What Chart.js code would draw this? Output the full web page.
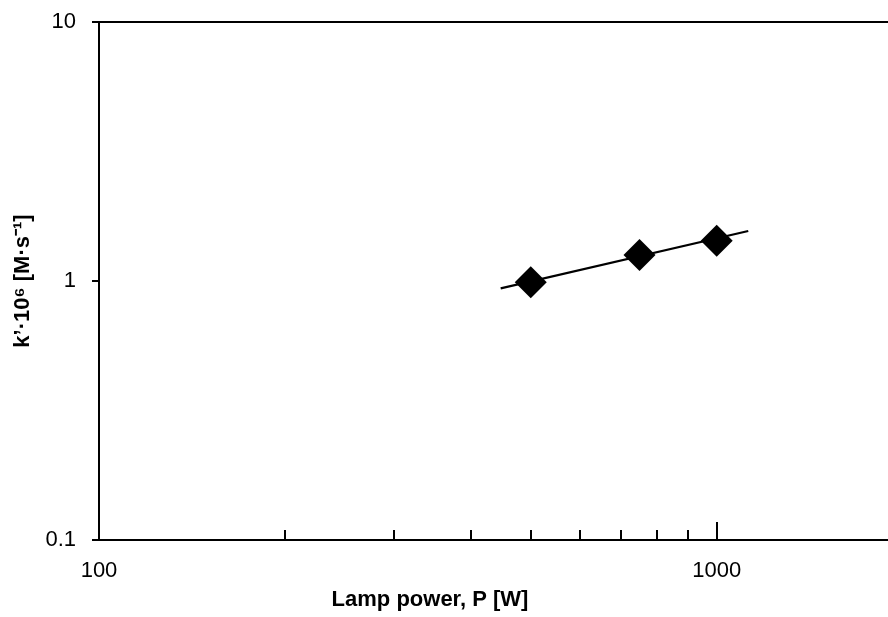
<!DOCTYPE html>
<html><head><meta charset="utf-8">
<script src="https://cdn.jsdelivr.net/npm/chart.js@4"></script>
<style>html,body{margin:0;padding:0;background:#fff}</style>
</head><body>
<canvas id="c" width="888" height="617"></canvas>
<script>
const lampPower = [500, 750, 1000];
const rateConst = [0.99, 1.26, 1.43];
const fitPower = [447, 1125];
const fitRate = [0.937, 1.56];
const xTickValues = [100, 1000];
const xMinorTicks = [200, 300, 400, 500, 600, 700, 800, 900, 1000];
const yTickValues = [0.1, 1, 10];
const xTitle = 'Lamp power, P [W]';
const yTitle = 'k\u2019\u00b710\u2076 [M\u00b7s\u207b\u00b9]';

const FONT = '"Liberation Sans", Arial, sans-serif';

const axisDeco = {
  id: 'axisDeco',
  afterDatasetsDraw(chart) {
    const ctx = chart.ctx, xs = chart.scales.x, a = chart.chartArea;
    ctx.save();
    ctx.strokeStyle = '#000';
    ctx.lineWidth = 2;
    ctx.beginPath();
    ctx.moveTo(a.left, a.top);
    ctx.lineTo(a.right, a.top);
    for (const v of xMinorTicks) {
      const px = Math.round(xs.getPixelForValue(v));
      const len = v === 1000 ? 18 : 10;
      ctx.moveTo(px, a.bottom);
      ctx.lineTo(px, a.bottom - len);
    }
    ctx.stroke();
    ctx.fillStyle = '#000';
    ctx.font = 'bold 22px ' + FONT;
    ctx.textAlign = 'center';
    ctx.textBaseline = 'middle';
    ctx.fillText(xTitle, 430, 600);
    ctx.restore();
  }
};

function zeroPad(s) { s.paddingTop = 0; s.paddingBottom = 0; s.paddingLeft = 0; s.paddingRight = 0; }

new Chart(document.getElementById('c'), {
  type: 'scatter',
  data: {
    datasets: [
      {
        data: lampPower.map((x, i) => ({x, y: rateConst[i]})),
        pointStyle: 'rectRot',
        pointRadius: 16,
        pointHoverRadius: 16,
        backgroundColor: '#000',
        borderColor: '#000',
        borderWidth: 0,
        showLine: false,
        order: 0
      },
      {
        data: fitPower.map((x, i) => ({x, y: fitRate[i]})),
        showLine: true,
        pointRadius: 0,
        borderColor: '#000',
        borderWidth: 2.2,
        order: 1
      }
    ]
  },
  options: {
    responsive: false,
    animation: false,
    events: [],
    layout: { autoPadding: false, padding: { top: 22, right: 0, left: 0, bottom: 0 } },
    plugins: { legend: { display: false }, tooltip: { enabled: false } },
    scales: {
      x: {
        type: 'logarithmic',
        min: 100,
        max: 1894,
        afterBuildTicks: s => { s.ticks = xTickValues.map(v => ({value: v})); },
        afterFit: s => { s.height = 77; zeroPad(s); },
        grid: { display: false, drawTicks: false },
        border: { display: true, color: '#000', width: 2 },
        ticks: {
          color: '#000',
          font: { family: FONT, size: 22 },
          padding: 18,
          maxRotation: 0,
          autoSkip: false,
          callback: v => String(v)
        },
        title: { display: false }
      },
      y: {
        type: 'logarithmic',
        min: 0.1,
        max: 10,
        afterBuildTicks: s => { s.ticks = yTickValues.map(v => ({value: v})); },
        afterFit: s => { s.width = 99; zeroPad(s); },
        grid: { drawOnChartArea: false, drawTicks: true, tickLength: 7, color: '#000', lineWidth: 2 },
        border: { display: true, color: '#000', width: 2 },
        ticks: {
          color: '#000',
          font: { family: FONT, size: 22 },
          padding: 16,
          autoSkip: false,
          callback: v => String(v)
        },
        title: {
          display: true,
          text: yTitle,
          color: '#000',
          font: { family: FONT, size: 22, weight: 'bold' },
          padding: { top: 10, bottom: 0 }
        }
      }
    }
  },
  plugins: [axisDeco]
});
</script>
</body></html>
